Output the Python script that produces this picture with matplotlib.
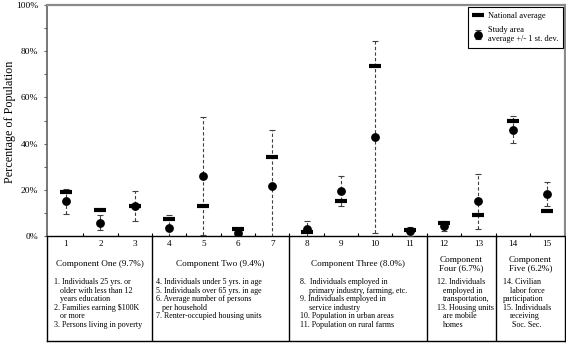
import matplotlib
matplotlib.use("Agg")
import matplotlib.pyplot as plt
from matplotlib.lines import Line2D
import numpy as np

plt.rcParams['font.family'] = ['Liberation Serif', 'DejaVu Serif']

# data (percent of population)
variables = list(range(1, 16))
national_avg = [19, 11.2, 13, 7.4, 13, 3.2, 34.4, 1.7, 15, 73.6, 2.5, 5.8, 9, 50, 11]
study_avg = [15, 5.8, 12.8, 3.3, 26, 1.3, 21.6, 3, 19.5, 42.8, 2, 4.5, 15, 46, 18]
study_sd = [5.4, 3.4, 6.5, 5.7, 25.5, 2.2, 24.4, 3.5, 6.5, 41.6, 2, 2.2, 11.8, 5.9, 5.2]

components = ["Component One (9.7%)", "Component Two (9.4%)", "Component Three (8.0%)",
              "Component\nFour (6.7%)", "Component\nFive (6.2%)"]
group_sizes = [3, 4, 4, 2, 2]

descriptions = [
    [("1. Individuals 25 yrs. or", 0), ("older with less than 12", 6), ("years education", 6),
     ("2. Families earning $100K", 0), ("or more", 6), ("3. Persons living in poverty", 0)],
    [("4. Individuals under 5 yrs. in age", 0), ("5. Individuals over 65 yrs. in age", 0),
     ("6. Average number of persons", 0), ("per household", 6), ("7. Renter-occupied housing units", 0)],
    [("8.  Individuals employed in", 0), ("primary industry, farming, etc.", 9),
     ("9. Individuals employed in", 0), ("service industry", 9),
     ("10. Population in urban areas", 0), ("11. Population on rural farms", 0)],
    [("12. Individuals", 0), ("employed in", 6), ("transportation,", 6),
     ("13. Housing units", 0), ("are mobile", 6), ("homes", 6)],
    [("14. Civilian", 0), ("labor force", 7), ("participation", 0),
     ("15. Individuals", 0), ("receiving", 7), ("Soc. Sec.", 9)],
]
desc_left = [54, 156, 300, 437, 503]

W, H = 566, 343
fig = plt.figure(figsize=(W / 100, H / 100), dpi=100)
ax_t = fig.add_axes([47 / W, 2 / H, 518 / W, 105 / H])
ax = fig.add_axes([47 / W, (H - 236) / H, 518 / W, 231 / H])
ax_t.patch.set_visible(False)

# error bars (dashed) then markers
eb = ax.errorbar(variables, study_avg, yerr=study_sd, fmt='o', color='black', ms=5.3,
                 ecolor='#404040', elinewidth=0.8, capsize=2.2, capthick=0.8, zorder=3)
eb[2][0].set_linestyle((0, (3, 2)))
ax.plot(variables, national_avg, '_', color='black', ms=8, mew=3, zorder=4)

ax.set_xlim(0.447, 15.52)
ax.set_ylim(0, 100)
ax.set_yticks(np.arange(0, 101, 20))
ax.set_yticks(np.arange(0, 101, 10), minor=True)
ax.set_yticklabels([f"{v}%" for v in range(0, 101, 20)], fontsize=6.8)
ax.set_xticks(variables)
ax.set_xticklabels([str(v) for v in variables], fontsize=6.6)
ax.set_xticks(np.arange(1.5, 15, 1), minor=True)
ax.tick_params(axis='x', which='major', length=0, pad=3)
ax.tick_params(axis='x', which='minor', direction='in', length=2.5, width=0.8)
ax.tick_params(axis='y', which='both', direction='out', length=2.3, width=0.8,
               color='#606060', pad=4)

for s in ['top', 'right']:
    ax.spines[s].set_color('#8a8a8a')
    ax.spines[s].set_linewidth(1.6)
ax.spines['left'].set_color('#606060')
ax.spines['left'].set_linewidth(1.2)
ax.spines['bottom'].set_color('black')
ax.spines['bottom'].set_linewidth(1.0)

fig.text(10 / W, 1 - 122 / H, "Percentage of Population", rotation=90,
         ha='center', va='center', fontsize=8.7)

handles = [Line2D([], [], marker='_', ms=8, mew=3, ls='none', color='black'), eb]
labels = ["National average", "Study area\naverage +/- 1 st. dev."]
leg = ax.legend(handles, labels, loc='upper right', bbox_to_anchor=(0.996, 0.991),
                borderaxespad=0, fontsize=6, handlelength=1.0, handletextpad=0.7,
                labelspacing=0.7, borderpad=0.6, fancybox=False, framealpha=1)
leg.get_frame().set_edgecolor('black')
leg.get_frame().set_linewidth(0.8)

# table of components below the axis
ax_t.set_xlim(ax.get_xlim())
ax_t.set_ylim(105, 0)
ax_t.set_xticks([])
ax_t.set_yticks([])
for s in ax_t.spines.values():
    s.set_color('black')
    s.set_linewidth(1.0)
ax_t.spines['top'].set_visible(False)

edges = np.concatenate([[ax.get_xlim()[0]], np.cumsum(group_sizes) + 0.5])
edges[-1] = ax.get_xlim()[1]
for e in edges[1:-1]:
    ax_t.axvline(e, color='black', lw=1.0)

for i, name in enumerate(components):
    xc = (edges[i] + edges[i + 1]) / 2
    ax_t.text(xc, 28, name, ha='center', va='center', fontsize=6.6, linespacing=1.15)
    for j, (line, indent) in enumerate(descriptions[i]):
        fig.text((desc_left[i] + indent) / W, 1 - (282 + 8.55 * j) / H, line,
                 ha='left', va='center', fontsize=5.8)

fig.savefig('out.png', dpi=100)
